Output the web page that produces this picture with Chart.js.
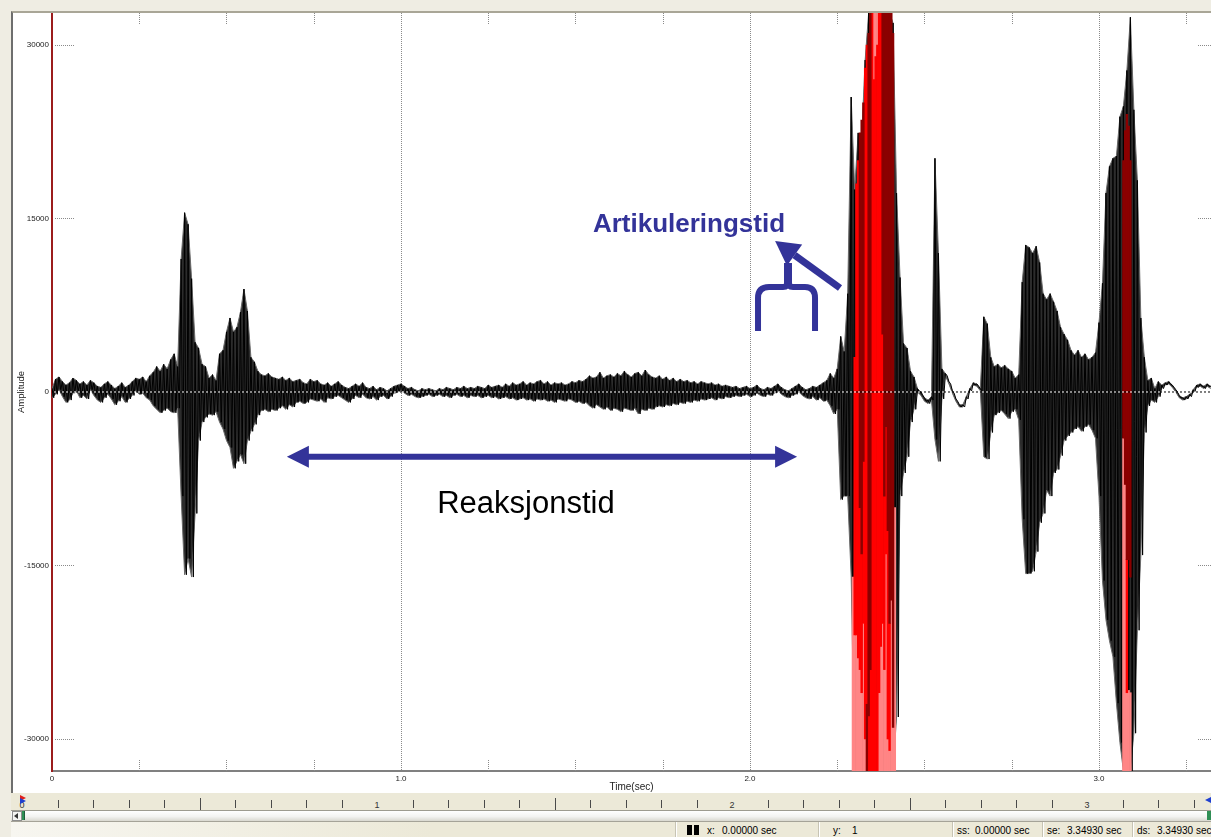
<!DOCTYPE html>
<html>
<head>
<meta charset="utf-8">
<title>Reaksjonstid og artikuleringstid</title>
<script src="https://cdn.jsdelivr.net/npm/chart.js@4.4.1/dist/chart.umd.min.js"></script>
<style>
  html, body { margin: 0; padding: 0; }
  body { width: 1211px; height: 837px; overflow: hidden; position: relative; background: #efede3;
         font-family: "Liberation Sans", Arial, sans-serif; }
  #frame { position: absolute; left: 11px; top: 11px; width: 1200px; height: 782px; box-sizing: border-box;
           border-left: 2px solid #6e6e6e; border-top: 2px solid #a9a697; background: #fff; }
  #chart { display: block; }
  #ruler { position: absolute; left: 11px; top: 793px; width: 1200px; height: 17px; background: #ece9d8;
           border-bottom: 1px solid #9d9b90; }
  .rt { position: absolute; width: 1px; background: #4a4a4a; }
  .rl { position: absolute; top: 7px; font-size: 9px; line-height: 10px; color: #333; transform: translateX(-50%); }
  #scroll { position: absolute; left: 11px; top: 811px; width: 1200px; height: 10px;
            background: linear-gradient(#ffffff, #f3f3f1 55%, #d9d8d0); border-bottom: 1px solid #a5a398; }
  #status { position: absolute; left: 11px; top: 822px; width: 1200px; height: 15px;
            background: linear-gradient(90deg, #f7f6f0, #ece9d8 35%); font-size: 10px; color: #000; }
  .st { position: absolute; top: 3px; white-space: pre; line-height: 11px; }
  .sep { position: absolute; top: 0; width: 1px; height: 15px; background: #c7c4b4; border-right: 1px solid #fff; }
</style>
</head>
<body>
<div id="frame"><canvas id="chart" width="1198" height="780"></canvas></div>
<div id="ruler"></div>
<div id="scroll"></div>
<div id="status"></div>
<script>
// waveform envelope, one max/min pair every 10 ms
const waveStep = 0.01;
const waveMax = [
  300, 1100, 1300, 900, 600, 800, 1200, 1000, 700, 900,
  600, 1000, 800, 500, 400, 700, 900, 600, 300, 500,
  800, 400, 600, 900, 1200, 1100, 1300, 900, 1400, 1700,
  2200, 1800, 2400, 2000, 2800, 3300, 2200, 11500, 15500, 14500,
  9800, 4300, 3800, 2400, 2200, 1200, 1500, 1000, 3300, 3600,
  5200, 6400, 5200, 5600, 6900, 8900, 7000, 3000, 2600, 1800,
  1500, 1400, 1600, 1300, 1200, 1100, 1300, 1000, 1200, 900,
  1000, 1100, 800, 700, 1100, 900, 1000, 700, 600, 800,
  500, 700, 900, 600, 400, 300, 500, 700, 500, 800,
  400, 300, 500, 200, 400, 300, 100, 300, 500, 600,
  700, 500, 300, 400, 200, 100, 300, 200, 300, 200,
  100, 300, 200, 400, 300, 200, 400, 300, 500, 300,
  400, 300, 500, 400, 300, 600, 400, 500, 600, 400,
  700, 500, 800, 600, 700, 900, 600, 800, 700, 900,
  1000, 700, 900, 600, 800, 700, 800, 600, 700, 900,
  800, 1000, 900, 1100, 1400, 1200, 1300, 1700, 1200, 1400,
  1500, 1300, 1600, 1400, 1800, 1500, 1300, 1600, 1700, 1400,
  1900, 1500, 1300, 1200, 1400, 1100, 1300, 1000, 1200, 900,
  1100, 900, 1000, 800, 900, 700, 900, 800, 700, 800,
  600, 700, 500, 600, 500, 400, 500, 300, 400, 500,
  300, 400, 600, 300, 200, 400, 300, 500, 700, 400,
  200, 100, 300, 500, 700, 400, 200, 300, 500, 400,
  600, 800, 1000, 1600, 1200, 2000, 4800, 3500, 8500, 25500,
  17500, 22400, 22000, 28700, 32767, 32767, 32767, 32767, 32767, 32767,
  32767, 31900, 17200, 9900, 4200, 3800, 1800, 1300, 300, 0,
  -500, -700, -400, 20200, 12000, 2000, 1600, 900, 100, -600,
  -1100, -1100, -400, 300, 800, 700, 300, 6500, 5900, 3000,
  2200, 2400, 2100, 2300, 2000, 1800, 1200, 1500, 9500, 12700,
  12500, 12000, 12600, 11200, 8500, 8000, 8500, 7800, 7000, 5600,
  5000, 4500, 3600, 3200, 3600, 3000, 3300, 2800, 3000, 3400,
  6000, 9400, 17200, 19500, 20200, 20400, 23800, 24700, 27800, 32400,
  24400, 18300, 6400, 3000, 1000, 1200, 300, 900, 600, 800,
  900, 600, 200, -300, -500, -400, -200, 200, 600, 700,
  500, 700, 500
];
const waveMin = [
  -500, -200, 200, -400, -900, -700, -100, 100, -500, -300,
  -600, 200, -300, -700, -900, -500, -200, -600, -1100, -800,
  -400, -900, -600, -300, 100, -200, -100, -500, -700, -1200,
  -1500, -1800, -1600, -1400, -1700, -1800, -1400, -9000, -15800, -14400,
  -16000, -10500, -4200, -2600, -2200, -1900, -2000, -1700, -2600, -3200,
  -4200, -4800, -6600, -6000, -5400, -6200, -4200, -3400, -2800, -2000,
  -1600, -1500, -1700, -1500, -1600, -1400, -1200, -1500, -1100, -1300,
  -900, -800, -1000, -900, -600, -700, -800, -600, -900, -500,
  -600, -400, -300, -500, -700, -900, -600, -300, -500, -200,
  -500, -600, -400, -700, -400, -300, -600, -400, -100, 0,
  100, -100, -300, -200, -400, -500, -400, -300, -200, -400,
  -300, -200, -400, -300, -500, -300, -200, -400, -300, -500,
  -300, -400, -300, -500, -400, -300, -500, -400, -600, -500,
  -400, -600, -500, -700, -600, -500, -700, -600, -800, -600,
  -700, -600, -800, -700, -900, -600, -700, -800, -600, -700,
  -900, -800, -1000, -900, -1200, -1400, -1100, -1300, -1500, -1300,
  -1600, -1400, -1500, -1700, -1400, -1500, -1600, -1400, -1900, -1500,
  -1600, -1400, -1500, -1300, -1200, -1300, -1100, -1200, -1000, -1100,
  -900, -1000, -800, -900, -700, -800, -600, -700, -600, -500,
  -700, -500, -600, -400, -500, -400, -300, -400, -300, -200,
  -400, -300, -100, -300, -400, -200, -300, -100, 100, -200,
  -400, -500, -300, -200, 0, -300, -500, -600, -400, -700,
  -500, -800, -700, -1200, -1900, -1500, -9300, -9000, -9000, -16000,
  -32768, -32768, -32768, -32768, -32768, -32768, -32768, -32768, -32768, -32768,
  -32768, -32768, -28100, -9000, -7000, -5600, -2600, -1500, 0, -300,
  -800, -1000, -700, -4100, -6000, -600, 1400, 700, -100, -800,
  -1300, -1300, -600, 100, 600, 500, 100, -5600, -5800, -3500,
  -2000, -1800, -1600, -1900, -2300, -1700, -1500, -2400, -11000, -15700,
  -15700, -15500, -13800, -11300, -10500, -8500, -9000, -7000, -6700, -5500,
  -4200, -3800, -3500, -3200, -3000, -3400, -3000, -2800, -3300, -4000,
  -9000, -16300, -19700, -21500, -22900, -26900, -30300, -32768, -32768, -32768,
  -29500, -20600, -14100, -3500, -1200, -700, -900, -400, 300, 600,
  700, 400, 0, -500, -700, -600, -400, 0, 400, 500,
  300, 500, 300
];

// clipped stretches shown in red: [time, low, high]
const clipPink = [
  [2.295, -32768, -16000], [2.300, -32768, -21000], [2.305, -32768, -21000], [2.310, -32768, -23000],
  [2.315, -32768, -24000], [2.320, -32768, -26000], [2.325, -32768, -20000], [2.330, -32768, -30000],
  [2.355, 27000, 32767], [2.360, 29000, 32767], [2.365, 30000, 32767],
  [2.370, -32768, -26000], [2.375, -32768, -22000], [2.380, -32768, -20000], [2.385, -32768, -24000],
  [2.390, -32768, -14000], [2.395, -32768, -30000], [2.400, -32768, -31000], [2.405, -32768, -18000],
  [2.410, -32768, -29000], [2.415, -32768, -10000],
  [3.070, -32768, -4000], [3.075, -32768, -8000], [3.080, -32768, -26000], [3.085, -32768, -25800],
  [3.090, -32768, -26000]
];
const clipRed = [
  [2.300, -21000, 3000], [2.305, -21000, 18000], [2.310, -23000, 20000], [2.315, -24000, -10000],
  [2.320, -26000, -14000], [2.325, -20000, -6000], [2.330, -30000, 28000], [2.335, -27000, 30000],
  [2.340, -32768, -28000], [2.345, -32768, -24000], [2.350, -32768, 32767], [2.355, -32768, 27000],
  [2.360, -32768, 29000], [2.365, -32768, 30000], [2.370, -26000, 32767], [2.375, -22000, 32767],
  [2.380, -20000, 5000], [2.385, -24000, -9000], [2.390, -14000, -3000], [2.395, -30000, -12000],
  [2.400, -31000, -20000], [3.080, -26000, -14500]
];
const clipDark = [
  [2.315, -10000, 22400], [2.320, -14000, 23500], [2.325, -6000, 25000], [2.335, -32768, -27000],
  [2.340, -28000, 31000], [2.345, -24000, 32767], [2.380, 5000, 32767], [2.385, -9000, 32767],
  [2.390, -3000, 32767], [2.395, -12000, 32767], [2.400, -20000, 32767], [2.405, -18000, 32767],
  [2.410, -29000, 31000],
  [3.070, -4000, 20000], [3.075, -8000, 22600], [3.080, -14500, 24000], [3.085, -14500, 23000],
  [3.090, -16000, 20000]
];

const xTickValues = [0, 0.25, 0.5, 0.75, 1, 1.25, 1.5, 1.75, 2, 2.25, 2.5, 2.75, 3, 3.25];
const yTickValues = [-30000, -15000, 0, 15000, 30000];
const timeRange = [0, 3.321];
const ampRange = [-32768, 32767];

// annotations, anchored in data units
const reactionSpan = [0.673, 2.135];
const reactionLevel = -5600;
const reactionText = 'Reaksjonstid';
const reactionTextAt = [1.358, -10460];
const articText = 'Artikuleringstid';
const articTextAt = [1.550, 13830];
const articArrowTail = [2.258, 8990];
const articArrowTip = [2.072, 13050];
const articBraceAt = [2.109, 9080];

const NAVY = '#333399';

const highPoints = waveMax.map((v, i) => ({ x: i * waveStep, y: v }));
const lowPoints = waveMin.map((v, i) => ({ x: i * waveStep, y: v }));
// vertical strokes: each sample goes from its max down to its min
const strokePoints = [];
waveMax.forEach(function (hi, i) {
  strokePoints.push({ x: i * waveStep, y: hi }, { x: i * waveStep + waveStep / 2, y: waveMin[i] });
});
function toBars(list) {
  return list.map(function (d) { return { x: d[0], y: [d[1], d[2]] }; });
}

const frameMarks = {
  id: 'frameMarks',
  beforeDatasetsDraw(chart) {
    const { ctx, chartArea: a, scales: { x, y } } = chart;
    ctx.save();
    ctx.lineWidth = 1;
    ctx.strokeStyle = '#8a8a8a';
    ctx.setLineDash([1, 1]);
    x.ticks.forEach(function (t) {
      if (t.value === 0) return;
      const px = Math.round(x.getPixelForValue(t.value)) + 0.5;
      ctx.beginPath();
      if (Number.isInteger(t.value)) {
        ctx.moveTo(px, a.top); ctx.lineTo(px, a.bottom);
      } else {
        ctx.moveTo(px, a.top); ctx.lineTo(px, a.top + 11);
        ctx.moveTo(px, a.bottom - 11); ctx.lineTo(px, a.bottom);
      }
      ctx.stroke();
    });
    y.ticks.forEach(function (t) {
      if (t.value === 0) return;
      const py = Math.round(y.getPixelForValue(t.value)) + 0.5;
      ctx.beginPath();
      ctx.moveTo(a.left + 3, py); ctx.lineTo(a.left + 23, py);
      ctx.moveTo(a.right - 13, py); ctx.lineTo(a.right, py);
      ctx.stroke();
    });
    ctx.restore();
  }
};

const annotations = {
  id: 'annotations',
  afterDraw(chart) {
    const { ctx, scales: { x, y } } = chart;
    const X = v => x.getPixelForValue(v), Y = v => y.getPixelForValue(v);
    ctx.save();
    ctx.fillStyle = NAVY;
    ctx.strokeStyle = NAVY;

    // double arrow
    const xl = X(reactionSpan[0]), xr = X(reactionSpan[1]), ya = Y(reactionLevel);
    ctx.lineWidth = 6;
    ctx.beginPath(); ctx.moveTo(xl + 18, ya); ctx.lineTo(xr - 18, ya); ctx.stroke();
    ctx.beginPath();
    ctx.moveTo(xl, ya); ctx.lineTo(xl + 22, ya - 11); ctx.lineTo(xl + 22, ya + 11); ctx.closePath();
    ctx.moveTo(xr, ya); ctx.lineTo(xr - 22, ya - 11); ctx.lineTo(xr - 22, ya + 11); ctx.closePath();
    ctx.fill();

    ctx.fillStyle = '#000';
    ctx.font = '31px "Liberation Sans", Arial, sans-serif';
    ctx.textAlign = 'center';
    ctx.textBaseline = 'alphabetic';
    ctx.fillText(reactionText, X(reactionTextAt[0]), Y(reactionTextAt[1]));

    ctx.fillStyle = NAVY;
    ctx.font = 'bold 26px "Liberation Sans", Arial, sans-serif';
    ctx.textAlign = 'left';
    ctx.fillText(articText, X(articTextAt[0]), Y(articTextAt[1]));

    // brace
    const bx = X(articBraceAt[0]), by = Y(articBraceAt[1]);
    ctx.lineWidth = 6;
    ctx.lineJoin = 'round';
    ctx.beginPath();
    ctx.moveTo(bx - 30, by + 44); ctx.lineTo(bx - 30, by + 11);
    ctx.quadraticCurveTo(bx - 30, by, bx - 19, by);
    ctx.lineTo(bx - 5, by);
    ctx.quadraticCurveTo(bx, by, bx, by - 7);
    ctx.quadraticCurveTo(bx, by, bx + 5, by);
    ctx.lineTo(bx + 17, by);
    ctx.quadraticCurveTo(bx + 27, by, bx + 27, by + 11);
    ctx.lineTo(bx + 27, by + 44);
    ctx.stroke();
    ctx.lineWidth = 8;
    ctx.beginPath(); ctx.moveTo(bx, by - 3); ctx.lineTo(bx, by - 24); ctx.stroke();

    // arrow to the label
    const tx = X(articArrowTail[0]), ty = Y(articArrowTail[1]);
    const hx = X(articArrowTip[0]), hy = Y(articArrowTip[1]);
    const len = Math.hypot(tx - hx, ty - hy), ux = (tx - hx) / len, uy = (ty - hy) / len;
    const bxh = hx + ux * 24, byh = hy + uy * 24;
    ctx.lineWidth = 7;
    ctx.beginPath(); ctx.moveTo(tx, ty); ctx.lineTo(bxh, byh); ctx.stroke();
    ctx.beginPath();
    ctx.moveTo(hx, hy);
    ctx.lineTo(bxh - uy * 13, byh + ux * 13);
    ctx.lineTo(bxh + uy * 13, byh - ux * 13);
    ctx.closePath();
    ctx.fill();
    ctx.restore();
  }
};

Chart.defaults.font.family = '"Liberation Sans", Arial, sans-serif';

const ctx = document.getElementById('chart').getContext('2d');
new Chart(ctx, {
  type: 'line',
  data: {
    datasets: [
      { data: [{ x: timeRange[0], y: 0 }, { x: timeRange[1], y: 0 }], borderColor: '#000', borderWidth: 1,
        borderDash: [2, 2], pointRadius: 0, order: 0 },
      { data: [{ x: timeRange[0], y: 0 }, { x: timeRange[1], y: 0 }], borderColor: '#fff', borderWidth: 1,
        borderDash: [2, 2], borderDashOffset: 2, pointRadius: 0, order: 0 },
      { type: 'bar', data: toBars(clipDark), backgroundColor: '#8b0000', grouped: false,
        barPercentage: 1, categoryPercentage: 1, order: 1 },
      { type: 'bar', data: toBars(clipRed), backgroundColor: '#ff0000', grouped: false,
        barPercentage: 1, categoryPercentage: 1, order: 1 },
      { type: 'bar', data: toBars(clipPink), backgroundColor: '#ff8585', grouped: false,
        barPercentage: 1, categoryPercentage: 1, order: 1 },
      { label: 'Amplitude', data: strokePoints, borderColor: '#000', borderWidth: 1, pointRadius: 0,
        tension: 0, fill: false, order: 2 },
      { label: 'Amplitude max', data: highPoints, borderColor: '#6a6a6a', borderWidth: 1, pointRadius: 0,
        tension: 0, fill: false, order: 3 },
      { label: 'Amplitude min', data: lowPoints, borderColor: '#6a6a6a', borderWidth: 1, pointRadius: 0,
        tension: 0, fill: '-1', backgroundColor: '#2c2c2c', order: 3 }
    ]
  },
  options: {
    responsive: false,
    animation: false,
    devicePixelRatio: 1,
    layout: { padding: 0 },
    plugins: { legend: { display: false }, tooltip: { enabled: false } },
    scales: {
      x: {
        type: 'linear', min: timeRange[0], max: timeRange[1], offset: false,
        grid: { display: false, drawTicks: false, offset: false },
        border: { display: true, color: '#808080', width: 2 },
        afterBuildTicks: s => { s.ticks = xTickValues.map(v => ({ value: v })); },
        afterFit: s => { s.height = 22; s.paddingLeft = 0; s.paddingRight = 0; },
        ticks: {
          autoSkip: false, maxRotation: 0, minRotation: 0, padding: 3,
          color: '#222', font: { size: 8 },
          callback: v => (v === 0 ? '0' : Number.isInteger(v) ? v.toFixed(1) : '')
        },
        title: { display: true, text: 'Time(sec)', color: '#222', font: { size: 10 },
                 padding: { top: 0, bottom: 0 } }
      },
      y: {
        min: ampRange[0], max: ampRange[1],
        grid: { display: false, drawTicks: false },
        border: { display: true, color: '#9b1c1c', width: 2 },
        afterBuildTicks: s => { s.ticks = yTickValues.map(v => ({ value: v })); },
        afterFit: s => { s.width = 39; s.paddingTop = 0; s.paddingBottom = 0; },
        ticks: { padding: 3, color: '#222', font: { size: 8 }, callback: v => String(v) },
        title: { display: true, text: 'Amplitude', color: '#222', font: { size: 9.5 },
                 padding: { top: 3, bottom: 0 } }
      }
    }
  },
  plugins: [frameMarks, annotations]
});

// window chrome under the plot: ruler, scrollbar, status line
const ruler = document.getElementById('ruler');
for (let i = 0; i <= 33; i++) {
  const left = 11 + i * 35.5;
  if (i % 10 === 0) {
    const l = document.createElement('div');
    l.className = 'rl'; l.style.left = left + 'px'; l.textContent = String(i / 10);
    ruler.appendChild(l);
  } else {
    const t = document.createElement('div');
    const major = i % 5 === 0;
    t.className = 'rt';
    t.style.left = Math.round(left) + 'px';
    t.style.top = (major ? 5 : 7) + 'px';
    t.style.height = (major ? 12 : 8) + 'px';
    ruler.appendChild(t);
  }
}
ruler.insertAdjacentHTML('beforeend',
  '<div style="position:absolute;left:9px;top:2px;width:0;height:0;border-top:3px solid transparent;border-bottom:3px solid transparent;border-left:6px solid #e0201a"></div>' +
  '<div style="position:absolute;left:9px;top:5px;width:0;height:0;border-top:3px solid transparent;border-bottom:3px solid transparent;border-left:6px solid #2040d0"></div>' +
  '<div style="position:absolute;left:1194px;top:4px;width:0;height:0;border-top:3px solid transparent;border-bottom:3px solid transparent;border-right:6px solid #2040d0"></div>');

document.getElementById('scroll').innerHTML =
  '<div style="position:absolute;left:1px;top:0;width:8px;height:8px;border:1px solid #8e8e8e;background:#f4f4f2"></div>' +
  '<div style="position:absolute;left:3px;top:2px;width:0;height:0;border-top:3px solid transparent;border-bottom:3px solid transparent;border-right:4px solid #333"></div>' +
  '<div style="position:absolute;left:11px;top:0;width:2px;height:9px;background:#2f8f55;border-right:1px solid #1d5e3a"></div>' +
  '<div style="position:absolute;left:1196px;top:0;width:4px;height:9px;background:#2f8f55"></div>';

const statusItems = [
  ['sep', 664], ['x:', 696], ['0.00000 sec', 711], ['sep', 807], ['y:', 822], ['1', 841],
  ['sep', 941], ['ss:', 946], ['0.00000 sec', 964], ['sep', 1031], ['se:', 1036], ['3.34930 sec', 1056],
  ['sep', 1121], ['ds:', 1126], ['3.34930 sec', 1146]
];
const status = document.getElementById('status');
status.insertAdjacentHTML('beforeend',
  '<div style="position:absolute;left:676px;top:3px;width:5px;height:10px;background:#000"></div>' +
  '<div style="position:absolute;left:683px;top:3px;width:5px;height:10px;background:#000"></div>');
statusItems.forEach(function (it) {
  const d = document.createElement('div');
  if (it[0] === 'sep') { d.className = 'sep'; } else { d.className = 'st'; d.textContent = it[0]; }
  d.style.left = it[1] + 'px';
  status.appendChild(d);
});
</script>
</body>
</html>
